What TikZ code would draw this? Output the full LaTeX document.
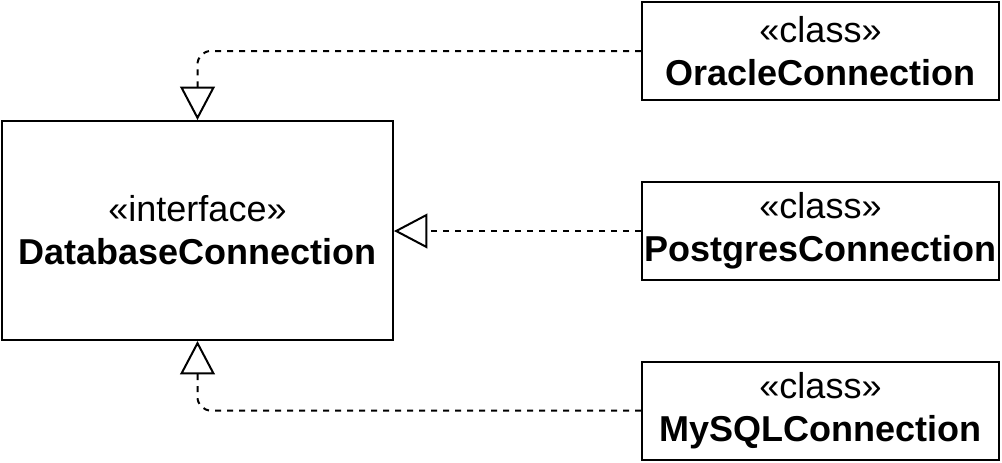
\documentclass[tikz,border=0pt]{standalone}
\usepackage{fontspec}
\setmainfont{Liberation Sans}
\usetikzlibrary{arrows.meta}

\begin{document}
\begin{tikzpicture}[x=0.75pt,y=-0.75pt,
        umlbox/.style={draw,line width=1.5pt,align=center,inner sep=0pt,font=\fontsize{27}{32.4}\selectfont},
        classbox/.style={umlbox,minimum width=267.75pt,minimum height=73.5pt},
        realizes/.style={dash pattern=on 4.5pt off 4.5pt,line width=1.5pt,rounded corners=10pt,
            -{Triangle[open,length=25pt,width=26pt,fill=white]}}]
        \useasboundingbox (0,0) rectangle (1002,462);
        \node[umlbox,minimum width=293.25pt,minimum height=164.25pt] (dbconn) at (197.5,230.5) {«interface»\\\textbf{DatabaseConnection}};
        \node[classbox] (oracle) at (820.5,51) {«class»\\\textbf{OracleConnection}};
        \node[classbox] (postgres) at (820.5,231) {«class»\\\textbf{PostgresConnection}};
        \node[classbox] (mysql) at (820.5,410.5) {«class»\\\textbf{MySQLConnection}};

        \draw[realizes] (oracle.west) -| (dbconn.north);
        \draw[realizes] (postgres.west) -- (dbconn.east |- postgres.west);
        \draw[realizes] (mysql.west) -| (dbconn.south);
\end{tikzpicture}
\end{document}
